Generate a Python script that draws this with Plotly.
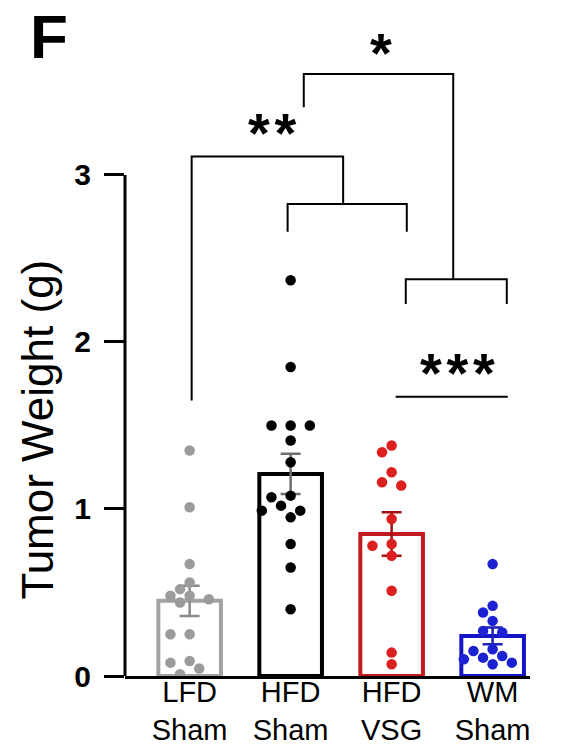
import plotly.graph_objects as go

# ---------------- data ----------------
groups = ["LFD<br>Sham", "HFD<br>Sham", "HFD<br>VSG", "WM<br>Sham"]
lfd_sham = [1.35, 1.01, 0.67, 0.56, 0.52, 0.48, 0.48, 0.46, 0.44, 0.25, 0.25, 0.09, 0.08, 0.045, 0.01]
hfd_sham = [2.37, 1.85, 1.50, 1.50, 1.50, 1.41, 1.28, 1.08, 1.07, 1.02, 0.99, 0.99, 0.95, 0.79, 0.65, 0.40]
hfd_vsg = [1.38, 1.34, 1.22, 1.16, 1.14, 0.94, 0.79, 0.78, 0.72, 0.51, 0.14, 0.07]
wm_sham = [0.67, 0.42, 0.38, 0.33, 0.27, 0.26, 0.16, 0.15, 0.12, 0.11, 0.10, 0.08, 0.07]
means = [0.45, 1.21, 0.85, 0.24]
sems = [0.09, 0.12, 0.13, 0.05]
y_ticks = [0, 1, 2, 3]
sig_labels = ["*", "**", "***"]

series = [lfd_sham, hfd_sham, hfd_vsg, wm_sham]

# ---------------- styles ----------------
dot_colors = ["#9b9b9b", "#000000", "#dc1f1f", "#1c22d2"]
bar_line_colors = ["#a2a2a2", "#000000", "#c21a1e", "#1414c4"]
err_colors = ["#8a8a8a", "#6e6e6e", "#a31313", "#2020b4"]
FONT = "Liberation Sans, Arial, sans-serif"

X_RANGE = [-0.64, 3.37]
Y_RANGE = [0, 3.85]
PX_X = 101.0  # pixels per x unit
PX_Y = 167.0  # pixels per y unit


def swarm(vals, step=0.095, d_px=11.5, max_k=6):
    """Simple beeswarm: each point takes the slot nearest the centre that is free."""
    order = sorted(range(len(vals)), key=lambda i: -vals[i])
    placed = []
    offs = [0.0] * len(vals)
    cands = [0]
    for m in range(1, max_k + 1):
        cands += [-m, m]
    for n, i in enumerate(order):
        y = vals[i]
        xo = 0.0
        for c in cands:
            xo = c * step
            ok = all(((xo - px) * PX_X) ** 2 + ((y - py) * PX_Y) ** 2 >= d_px ** 2
                     for px, py in placed)
            if ok:
                break
        placed.append((xo, y))
        offs[i] = xo
    return offs


fig = go.Figure()

for gi, vals in enumerate(series):
    fig.add_trace(go.Bar(
        x=[gi], y=[means[gi]], width=0.62,
        marker=dict(color="white", line=dict(color=bar_line_colors[gi], width=4)),
        error_y=dict(type="data", array=[sems[gi]], visible=True,
                     color=err_colors[gi], thickness=2.5, width=10),
        showlegend=False, hoverinfo="skip",
    ))

for gi, vals in enumerate(series):
    offs = swarm(vals)
    fig.add_trace(go.Scatter(
        x=[gi + o for o in offs], y=vals, mode="markers",
        marker=dict(color=dot_colors[gi], size=10.5, line=dict(width=0)),
        showlegend=False, hoverinfo="skip",
    ))

# significance brackets (data coordinates)
brackets = [
    [(1.13, 3.405), (1.13, 3.605), (2.61, 3.605), (2.61, 2.38)],
    [(0.02, 1.65), (0.02, 3.11), (1.52, 3.11), (1.52, 2.826)],
    [(0.97, 2.66), (0.97, 2.826), (2.15, 2.826), (2.15, 2.66)],
    [(2.14, 2.228), (2.14, 2.376), (3.14, 2.376), (3.14, 2.228)],
    [(2.04, 1.672), (3.15, 1.672)],
]
shapes = []
for br in brackets:
    path = "M " + " L ".join(f"{x},{y}" for x, y in br)
    shapes.append(dict(type="path", path=path, xref="x", yref="y",
                       line=dict(color="black", width=2)))
# y-axis line from 0 to 3
shapes.append(dict(type="line", xref="paper", yref="y", x0=0, x1=0, y0=0, y1=3,
                   line=dict(color="black", width=3)))

star_pos = [(1.89, 3.78), (0.816, 3.30), (2.65, 1.86)]
annotations = []
for lab, (sx, sy) in zip(sig_labels, star_pos):
    annotations.append(dict(
        text="<b>" + "\u200a".join(lab) + "</b>", x=sx, y=sy - 0.045, xref="x", yref="y",
        showarrow=False, xanchor="center", yanchor="middle",
        font=dict(family=FONT, size=56, color="black"),
    ))

annotations.append(dict(
    text="Tumor Weight (g)", textangle=-90, xref="paper", yref="y",
    x=-0.217, y=1.476, showarrow=False, xanchor="center", yanchor="middle",
    font=dict(family=FONT, size=44, color="black"),
))
annotations.append(dict(
    text="<b>F</b>", xref="paper", yref="paper", x=-0.188, y=0.995,
    showarrow=False, xanchor="center", yanchor="middle",
    font=dict(family=FONT, size=62, color="black"),
))

fig.update_layout(
    width=561, height=746,
    margin=dict(l=125, r=31, t=33, b=70),
    paper_bgcolor="white", plot_bgcolor="white",
    barmode="overlay",
    shapes=shapes, annotations=annotations,
    xaxis=dict(range=X_RANGE, tickvals=list(range(len(groups))), ticktext=groups,
               showline=True, linecolor="black", linewidth=3, ticks="",
               showgrid=False, zeroline=False, automargin=False,
               tickfont=dict(family=FONT, size=29, color="black"),
               ticklabelstandoff=-12),
    yaxis=dict(range=Y_RANGE, tickvals=y_ticks, ticktext=[str(t) for t in y_ticks],
               showline=False, ticks="outside", ticklen=20, tickwidth=3,
               tickcolor="black", showgrid=False, zeroline=False, automargin=False,
               tickfont=dict(family=FONT, size=30, color="black", weight="bold"),
               ticklabelstandoff=7),
)

fig.write_html("out.html", config={"displayModeBar": False},
               post_script="document.body.style.margin='0';document.body.style.overflow='hidden';")
